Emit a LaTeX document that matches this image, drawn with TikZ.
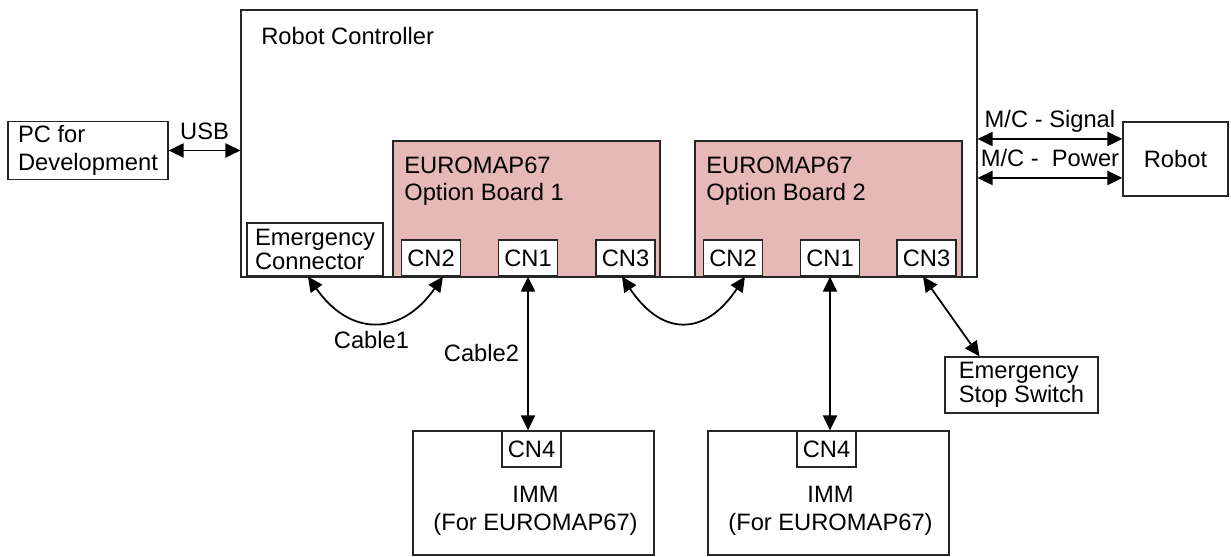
\documentclass[tikz,border=0pt]{standalone}
\usepackage{fontspec}
\setmainfont{Liberation Sans}
\usetikzlibrary{arrows.meta,positioning}
\definecolor{boardfill}{HTML}{E6B8B7}
\definecolor{edge}{HTML}{262626}
\tikzset{
  box/.style={draw=edge, line width=0.75pt, inner sep=0pt, fill=white},
  board/.style={box, fill=boardfill, minimum width=5.34cm, minimum height=2.72cm},
  conn/.style={box, minimum width=1.18cm, minimum height=0.72cm},
  tight/.style={font=\fontsize{13.5}{13.6}\selectfont},
  lbl/.style={inner sep=0pt, anchor=base},
  biarrow/.style={{Triangle[length=8.5pt,width=8pt]}-{Triangle[length=8.5pt,width=8pt]}, line width=1pt},
}
\begin{document}
\begin{tikzpicture}[x=0.02cm, y=-0.02cm, font=\fontsize{13.5}{15.8}\selectfont]
  \useasboundingbox (0,0) rectangle (1231,557);

  % Controller with option boards
  \node[box, minimum width=14.72cm, minimum height=5.34cm] (ctrl) at (609,143.5) {};
  \node[lbl, anchor=base west] (ctrllbl) at (261,45) {Robot Controller};
  \node[board] (b1) at (526.5,209) {};
  \node[board] (b2) at (828.5,209) {};
  \node[lbl, anchor=base west, align=left] (b1lbl) at (404,201) {EUROMAP67\\Option Board 1};
  \node[lbl, anchor=base west, align=left] (b2lbl) at (706,201) {EUROMAP67\\Option Board 2};
  \node[box, tight, align=left, minimum width=2.72cm, minimum height=1.06cm] (emc) at (315,249.5) {Emergency\\Connector};

  % Board connectors
  \foreach \nm/\x/\txt in {b1cn2/431/CN2, b1cn1/528/CN1, b1cn3/625.5/CN3,
                           b2cn2/733/CN2, b2cn1/830/CN1, b2cn3/926.5/CN3}
    \node[conn] (\nm) at (\x,258) {\txt};

  % Outside units
  \node[box, align=left, minimum width=3.2cm, minimum height=1.16cm] (pc) at (88,150.5) {PC for\\Development};
  \node[box, minimum width=2.1cm, minimum height=1.48cm] (robot) at (1175.5,159) {Robot};
  \node[box, tight, align=left, minimum width=3.06cm, minimum height=1.12cm] (stop) at (1021.5,385) {Emergency\\Stop Switch};
  \foreach \nm/\x in {imm1/533.5, imm2/828.5} {
    \node[box, minimum width=4.82cm, minimum height=2.48cm] (\nm) at (\x,493) {};
    \node[conn] (\nm cn4) at (\x-2,449) {CN4};
    \node[lbl, align=center] (\nm lbl) at (\x+2,530) {IMM\\(For EUROMAP67)};
  }

  % Links
  \draw[biarrow] (pc.east) -- (pc.east -| ctrl.west)
    node[lbl, midway, yshift=6.3pt] (usb) {USB};
  \coordinate (sigR) at ([yshift=11.4pt]robot.west);
  \coordinate (powR) at ([yshift=-10.8pt]robot.west);
  \draw[biarrow] (sigR -| ctrl.east) -- (sigR)
    node[lbl, midway, yshift=6.8pt] (siglbl) {M/C - Signal};
  \draw[biarrow] (powR -| ctrl.east) -- (powR)
    node[lbl, midway, yshift=6.8pt] (powlbl) {M/C -\ \ Power};

  \draw[biarrow] ([xshift=-4pt]emc.south) .. controls +(42,60) and +(-42,60) .. ([xshift=6.8pt]b1cn2.south);
  \node[lbl] (cab1) at (371.5,348) {Cable1};
  \draw[biarrow] (b1cn1.south) -- (b1cn1.south |- imm1cn4.north);
  \node[lbl] (cab2) at (481.5,361) {Cable2};
  \draw[biarrow] ([xshift=-2pt]b1cn3.south) .. controls +(40,60) and +(-40,60) .. ([xshift=6.8pt]b2cn2.south);
  \draw[biarrow] (b2cn1.south) -- (b2cn1.south |- imm2cn4.north);
  \draw[biarrow] ([xshift=-2pt]b2cn3.south) -- ([xshift=20pt]stop.north west);
\end{tikzpicture}
\end{document}
